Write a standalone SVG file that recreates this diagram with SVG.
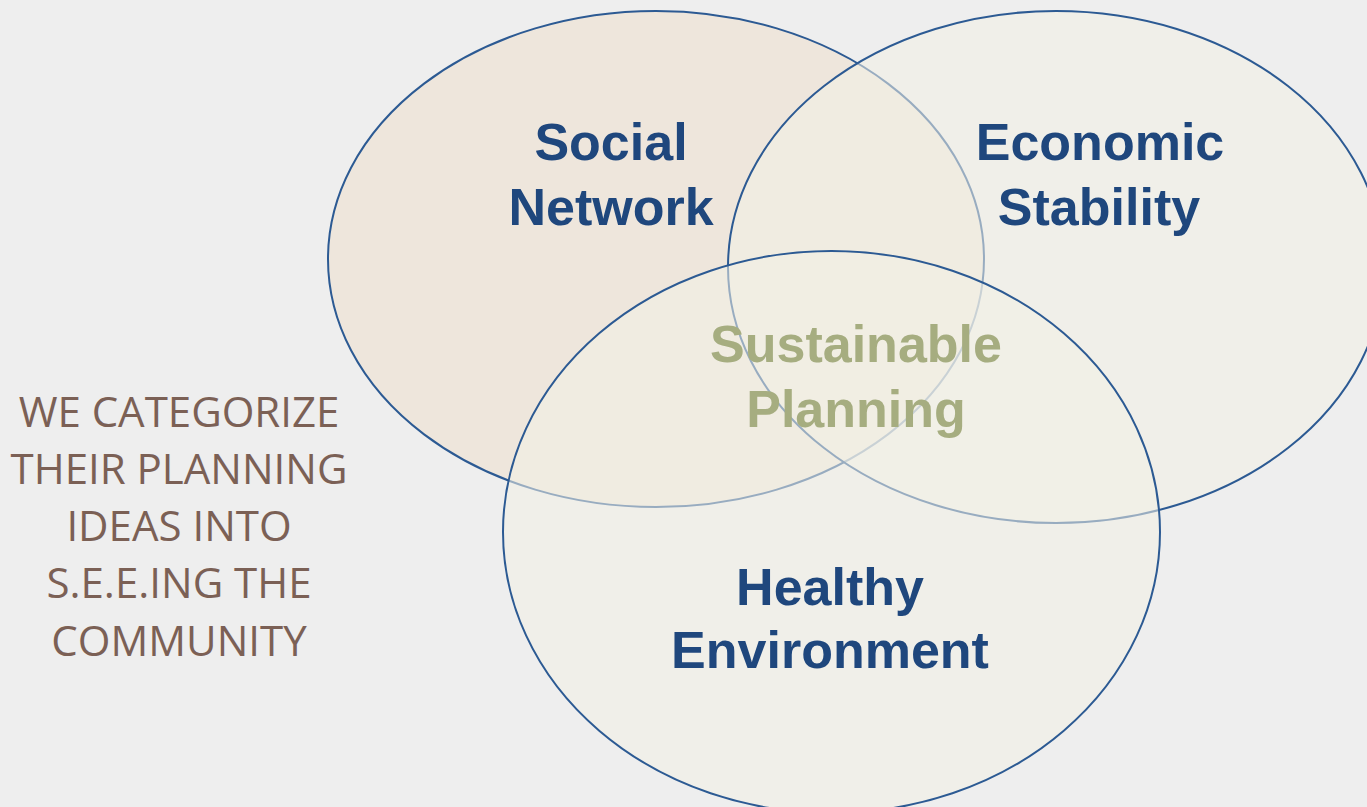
<svg xmlns="http://www.w3.org/2000/svg" width="1367" height="807" viewBox="0 0 1367 807">
<style>
.c{stroke:#2c5a93;stroke-width:2}
.t{font-family:"Liberation Sans",Arial,sans-serif;font-weight:bold;font-size:52px;text-anchor:middle;fill:#1f477d}
.s{fill:#a6ad80}
.l{font-family:"Open Sans",sans-serif;font-size:42px;text-anchor:middle;fill:#7b6055}
</style>
<rect width="1367" height="807" fill="#eeeeee"/>
<g id="social"><ellipse class="c" cx="656" cy="259" rx="328" ry="248" fill="#eee6dc"/></g>
<g id="economic"><ellipse class="c" cx="1056" cy="267" rx="328" ry="256" fill="#f3f1e5" fill-opacity="0.55"/></g>
<g id="healthy"><ellipse class="c" cx="831.5" cy="532" rx="328.5" ry="281" fill="#f3f1e5" fill-opacity="0.55"/></g>
<g id="labels">
<text class="t" x="611" y="160">Social</text>
<text class="t" x="611" y="225">Network</text>
<text class="t" x="1100" y="160">Economic</text>
<text class="t" x="1099" y="225">Stability</text>
<text class="t" x="830" y="605">Healthy</text>
<text class="t" x="830" y="668">Environment</text>
<text class="t s" x="856" y="362">Sustainable</text>
<text class="t s" x="856" y="427">Planning</text>
</g>
<g id="caption">
<text class="l" x="179" y="427">WE CATEGORIZE</text>
<text class="l" x="179" y="484">THEIR PLANNING</text>
<text class="l" x="179" y="541">IDEAS INTO</text>
<text class="l" x="179" y="598">S.E.E.ING THE</text>
<text class="l" x="179" y="656">COMMUNITY</text>
</g>
<g id="connectors"/>
</svg>
